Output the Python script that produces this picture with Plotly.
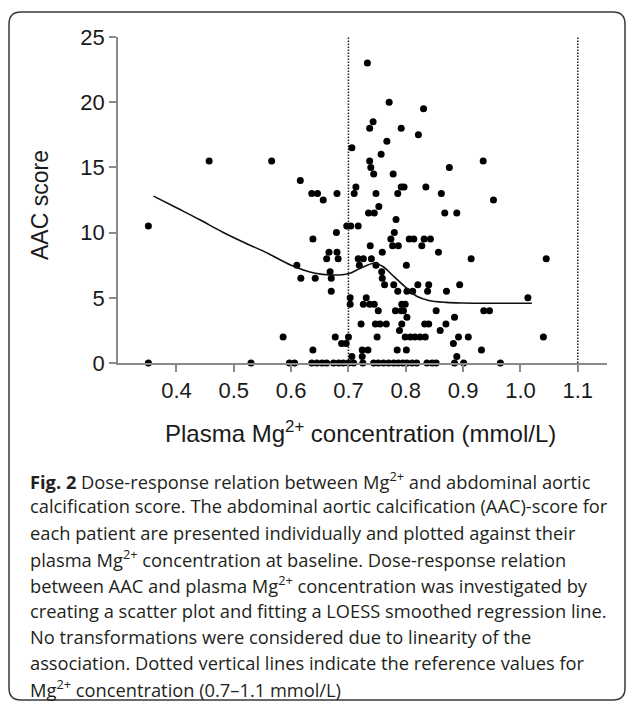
import plotly.graph_objects as go

# ---------------- data ----------------
# scatter points grouped by AAC score level (y) -> plasma Mg2+ values (x)
aac_levels = [23, 20, 19.5, 18.5, 18, 17.5, 17, 16.5, 16, 15.5, 15, 14.5, 14, 13.5, 13,
              12.5, 12, 11.5, 11, 10.5, 10, 9.5, 9, 8.5, 8, 7.5, 7, 6.5, 6, 5.5, 5,
              4.5, 4, 3.5, 3, 2.5, 2, 1.5, 1, 0.5, 0]
mg_at_level = [
    [0.733],
    [0.771],
    [0.831],
    [0.743],
    [0.737, 0.792],
    [0.822],
    [0.767],
    [0.706],
    [0.757],
    [0.457, 0.566, 0.737, 0.935],
    [0.739, 0.876],
    [0.744, 0.778],
    [0.616],
    [0.713, 0.792, 0.797, 0.835],
    [0.636, 0.646, 0.680, 0.710, 0.748, 0.786, 0.862],
    [0.656, 0.953],
    [0.753],
    [0.735, 0.745, 0.868, 0.889],
    [0.783],
    [0.351, 0.697, 0.704, 0.717],
    [0.679, 0.780],
    [0.638, 0.774, 0.806, 0.814, 0.832, 0.843],
    [0.738, 0.777, 0.787, 0.828],
    [0.666, 0.680, 0.759, 0.857],
    [0.662, 0.682, 0.717, 0.726, 0.740, 0.914, 1.045],
    [0.610, 0.719, 0.748, 0.801],
    [0.668, 0.758],
    [0.617, 0.642, 0.670, 0.759],
    [0.763, 0.779, 0.821, 0.840, 0.894],
    [0.670, 0.786, 0.802, 0.812, 0.838, 0.871],
    [0.703, 0.731, 1.013],
    [0.703, 0.726, 0.737, 0.745, 0.793, 0.799],
    [0.752, 0.782, 0.792, 0.796, 0.853, 0.936, 0.946],
    [0.802, 0.885],
    [0.722, 0.747, 0.755, 0.766, 0.793, 0.833, 0.840, 0.870],
    [0.789, 0.860],
    [0.586, 0.677, 0.700, 0.750, 0.799, 0.808, 0.816, 0.825, 0.834, 0.892, 0.909, 1.040],
    [0.688, 0.696, 0.883],
    [0.638, 0.724, 0.734, 0.785, 0.801, 0.932],
    [0.706, 0.724, 0.889],
    [0.351, 0.530, 0.597, 0.606, 0.636, 0.645, 0.654, 0.662, 0.674, 0.683, 0.691,
     0.700, 0.709, 0.725, 0.744, 0.752, 0.761, 0.770, 0.779, 0.787, 0.795, 0.802,
     0.811, 0.819, 0.837, 0.846, 0.853, 0.885, 0.901, 0.965],
]

# LOESS smoothed regression line
loess_x = [0.36, 0.40, 0.44, 0.48, 0.52, 0.56, 0.60, 0.64, 0.67, 0.70, 0.72, 0.745,
           0.76, 0.78, 0.80, 0.82, 0.84, 0.87, 0.90, 0.95, 1.02]
loess_y = [12.8, 11.9, 11.0, 10.05, 9.2, 8.4, 7.5, 6.9, 6.75, 6.85, 7.25, 7.65,
           7.4, 6.6, 5.8, 5.1, 4.8, 4.65, 4.6, 4.58, 4.58]

reference_limits = [0.7, 1.1]
x_ticks = [0.4, 0.5, 0.6, 0.7, 0.8, 0.9, 1.0, 1.1]
y_ticks = [0, 5, 10, 15, 20, 25]

y_title = "AAC score"
x_title = "Plasma Mg<sup>2+</sup> concentration (mmol/L)"
caption_lines = [
    "<b>Fig. 2</b> Dose-response relation between Mg<sup>2+</sup> and abdominal aortic",
    "calcification score. The abdominal aortic calcification (AAC)-score for",
    "each patient are presented individually and plotted against their",
    "plasma Mg<sup>2+</sup> concentration at baseline. Dose-response relation",
    "between AAC and plasma Mg<sup>2+</sup> concentration was investigated by",
    "creating a scatter plot and fitting a LOESS smoothed regression line.",
    "No transformations were considered due to linearity of the",
    "association. Dotted vertical lines indicate the reference values for",
    "Mg<sup>2+</sup> concentration (0.7\u20131.1 mmol/L)",
]

# ---------------- layout geometry (pixels) ----------------
W, H = 627, 702
L, R, T, B = 118, 607, 37, 363   # plot area edges


def px(xp):
    return (xp - L) / (R - L)


def py(yp):
    return (B - yp) / (B - T)


pts_x, pts_y = [], []
for lvl, xs in zip(aac_levels, mg_at_level):
    for v in xs:
        pts_x.append(v)
        pts_y.append(lvl)

fig = go.Figure()
fig.add_trace(go.Scatter(x=pts_x, y=pts_y, mode="markers",
                         marker=dict(size=7, color="black", line=dict(width=0)),
                         cliponaxis=False, showlegend=False, hoverinfo="x+y"))
fig.add_trace(go.Scatter(x=loess_x, y=loess_y, mode="lines",
                         line=dict(color="#111111", width=1.6, shape="spline", smoothing=1.0),
                         cliponaxis=False, showlegend=False))

for v in reference_limits:
    fig.add_shape(type="line", xref="x", yref="y", x0=v, x1=v, y0=0, y1=25,
                  line=dict(color="#222222", width=1.5, dash="1.5px,1.5px"), layer="below")

# rounded border of the figure panel
bx0, by0, bx1, by1, r = 9, 12, 625, 700, 12
path = (f"M {px(bx0 + r)},{py(by0)} L {px(bx1 - r)},{py(by0)} "
        f"Q {px(bx1)},{py(by0)} {px(bx1)},{py(by0 + r)} "
        f"L {px(bx1)},{py(by1 - r)} Q {px(bx1)},{py(by1)} {px(bx1 - r)},{py(by1)} "
        f"L {px(bx0 + r)},{py(by1)} Q {px(bx0)},{py(by1)} {px(bx0)},{py(by1 - r)} "
        f"L {px(bx0)},{py(by0 + r)} Q {px(bx0)},{py(by0)} {px(bx0 + r)},{py(by0)} Z")
fig.add_shape(type="path", xref="paper", yref="paper", path=path,
              line=dict(color="#3a3a3a", width=1.5))

tick_font = dict(family="Liberation Sans, Arial, sans-serif", size=22, color="#1a1a1a")
title_font = dict(family="Liberation Sans, Arial, sans-serif", size=23, color="#1a1a1a")
xtitle_font = dict(family="Liberation Sans, Arial, sans-serif", size=24, color="#1a1a1a")

annotations = [
    dict(text=y_title, x=px(40), y=py(205), xref="paper", yref="paper", showarrow=False,
         textangle=-90, font=title_font, xanchor="center", yanchor="middle"),
    dict(text=x_title, x=px(360), y=py(432), xref="paper", yref="paper", showarrow=False,
         font=xtitle_font, xanchor="center", yanchor="middle"),
]
cap_font = dict(family="Open Sans, sans-serif", size=18.3, color="#231f20")
for i, line in enumerate(caption_lines):
    annotations.append(dict(text=line, x=px(28), y=py(480 + 26 * i), xref="paper", yref="paper",
                            showarrow=False, font=cap_font, xanchor="left", yanchor="middle",
                            align="left"))

fig.update_layout(
    width=W, height=H,
    margin=dict(l=L, r=W - R, t=T, b=H - B, pad=0),
    paper_bgcolor="white", plot_bgcolor="white",
    annotations=annotations,
    xaxis=dict(range=[0.298, 1.151], tickvals=x_ticks, ticktext=[f"{v:.1f}" for v in x_ticks],
               showgrid=False, zeroline=False, showline=True, linecolor="#8a8a8a", linewidth=1.5,
               ticks="outside", ticklen=7, tickwidth=1.5, tickcolor="#8a8a8a",
               tickfont=tick_font, automargin=False, fixedrange=True),
    yaxis=dict(range=[0, 25], tickvals=y_ticks, showgrid=False, zeroline=False,
               showline=True, linecolor="#8a8a8a", linewidth=1.5,
               ticks="outside", ticklen=7, tickwidth=1.5, tickcolor="#8a8a8a",
               tickfont=tick_font, automargin=False, fixedrange=True),
)

fig.write_html("out.html", config={"displayModeBar": False},
               post_script="document.body.style.margin='0px';")
